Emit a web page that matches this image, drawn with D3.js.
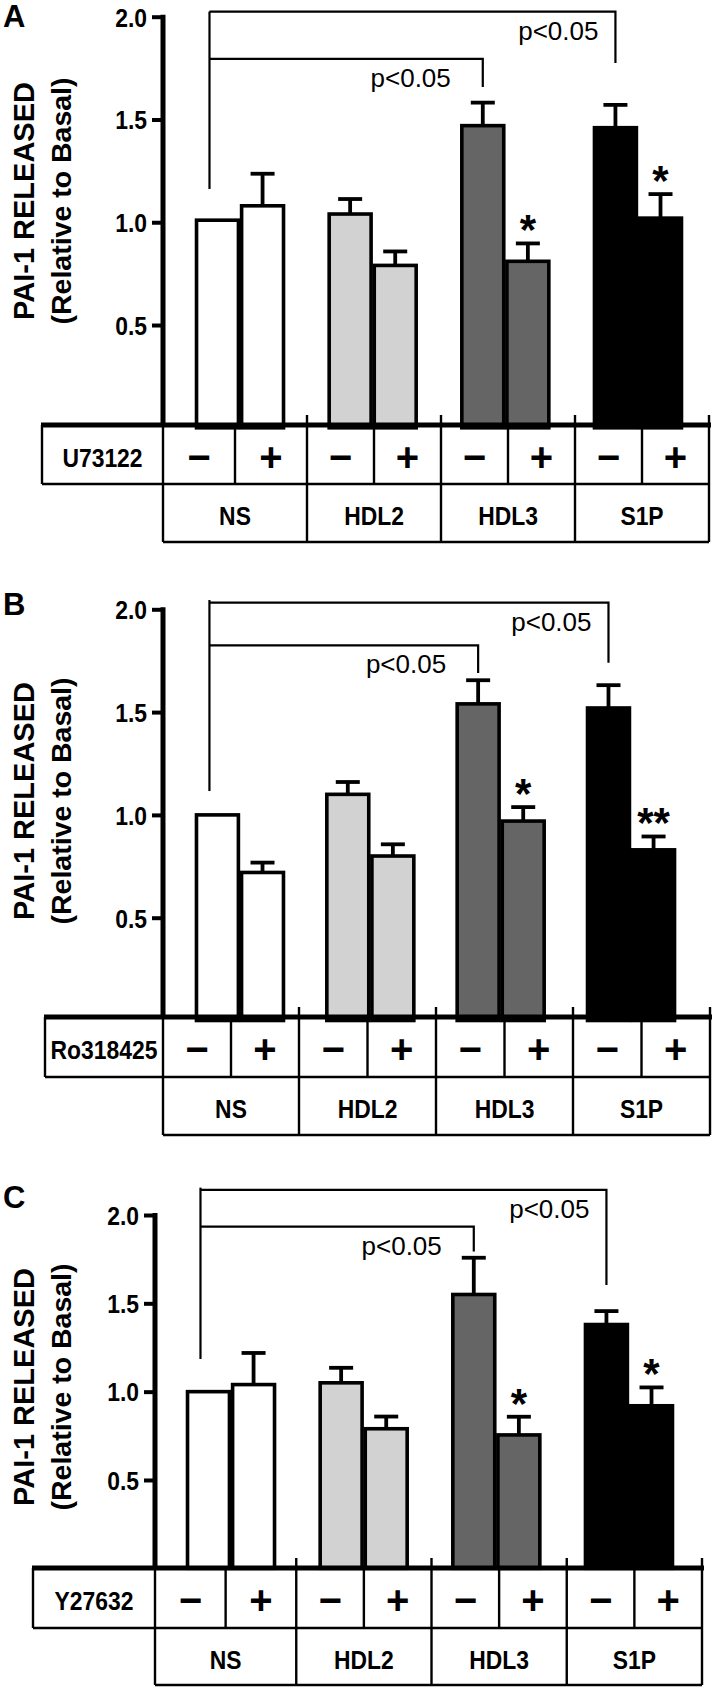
<!DOCTYPE html>
<html><head><meta charset="utf-8">
<script src="https://cdn.jsdelivr.net/npm/d3@7"></script>
<style>
html,body{margin:0;padding:0;background:#fff;}
svg{display:block;}
</style></head>
<body>
<svg id="chart" width="717" height="1690"></svg>
<script>
// ---------- DATA ----------
const groups = ["NS", "HDL2", "HDL3", "S1P"];
const treatments = ["−", "+"];
const inhibitors = ["U73122", "Ro318425", "Y27632"];
const panelLetters = ["A", "B", "C"];
const tickValues = [0.5, 1.0, 1.5, 2.0];
const pLabel = "p<0.05";
// bar order: NS−, NS+, HDL2−, HDL2+, HDL3−, HDL3+, S1P−, S1P+
const meanA = [1.01, 1.08, 1.04, 0.79, 1.47, 0.81, 1.46, 1.02];
const semA  = [0, 0.156, 0.073, 0.068, 0.112, 0.087, 0.111, 0.117];
const sigA  = ["", "", "", "", "", "*", "", "*"];
const meanB = [1.00, 0.72, 1.10, 0.80, 1.54, 0.97, 1.52, 0.83];
const semB  = [0, 0.048, 0.060, 0.057, 0.115, 0.068, 0.111, 0.065];
const sigB  = ["", "", "", "", "", "*", "", "**"];
const meanC = [1.00, 1.04, 1.05, 0.79, 1.55, 0.755, 1.38, 0.92];
const semC  = [0, 0.179, 0.085, 0.069, 0.208, 0.103, 0.076, 0.104];
const sigC  = ["", "", "", "", "", "*", "", "*"];
// comparisons: NS− vs HDL3−, NS− vs S1P−
const comparisons = [["NS", "HDL3"], ["NS", "S1P"]];

// ---------- STYLE / LAYOUT ----------
const fills = ["#ffffff", "#d2d2d2", "#656565", "#000000"];
const layouts = [
  {y0: 427.8, y2: 16.7, axisX: 163, baseY: 425, bar: [173.7, 704.3], tLeft: 42, tRange: [173, 709], rows: [59, 58], titleY: 201, letterY: 27,
   brk: {left: 2.025, top: 2.025, low: 1.795, dropHi: 1.775, dropLo: 1.658, leftEnd: 1.162}},
  {y0: 1020.5, y2: 609.3, axisX: 163, baseY: 1017, bar: [174.8, 696.2], tLeft: 45, tRange: [162, 710], rows: [60, 58], titleY: 801, letterY: 615,
   brk: {left: 2.045, top: 2.032, low: 1.825, dropHi: 1.740, dropLo: 1.690, leftEnd: 1.116}},
  {y0: 1568.3, y2: 1215, axisX: 155, baseY: 1568, bar: [164.7, 695.3], tLeft: 33, tRange: [161, 702], rows: [60, 57], titleY: 1387, letterY: 1208,
   brk: {left: 2.155, top: 2.142, low: 1.934, dropHi: 1.604, dropLo: 1.793, leftEnd: 1.185}}
];
const panels = [
  {mean: meanA, sem: semA, sig: sigA},
  {mean: meanB, sem: semB, sig: sigB},
  {mean: meanC, sem: semC, sig: sigC}
];
const boldFont = "'Liberation Sans', Arial, Helvetica, sans-serif";
const condense = 0.88;
const labelSize = 26;

const svg = d3.select("#chart");

function condText(g, x, y, txt, size, anchor) {
  return g.append("text")
    .attr("transform", `translate(${x},${y}) scale(${condense},1)`)
    .attr("text-anchor", anchor || "middle")
    .attr("font-family", boldFont)
    .attr("font-weight", "bold")
    .attr("font-size", size)
    .attr("fill", "#000")
    .text(txt);
}

panels.forEach((p, pi) => {
  const L = layouts[pi];
  const g = svg.append("g");
  const y = d3.scaleLinear().domain([0, 2]).range([L.y0, L.y2]);
  const xg = d3.scaleBand().domain(groups).range(L.bar).padding(0);
  const xt = d3.scaleBand().domain(treatments).range([-43.5, 43.5]).paddingInner(0.07);

  const bars = [];
  groups.forEach((gr, gi) => treatments.forEach((t, ti) => {
    const i = gi * 2 + ti;
    bars.push({group: gr, gi, t, mean: p.mean[i], sem: p.sem[i], sig: p.sig[i]});
  }));
  const bx = d => xg(d.group) + xg.bandwidth() / 2 + xt(d.t);
  const bc = d => bx(d) + xt.bandwidth() / 2;

  // bars
  g.selectAll("rect.bar").data(bars).enter().append("rect")
    .attr("class", "bar")
    .attr("x", bx).attr("width", xt.bandwidth())
    .attr("y", d => y(d.mean)).attr("height", d => y(0) - y(d.mean))
    .attr("fill", d => fills[d.gi]).attr("stroke", "#000").attr("stroke-width", 3.6);

  // error bars
  const eb = bars.filter(d => d.sem > 0);
  g.selectAll("line.err").data(eb).enter().append("line")
    .attr("x1", bc).attr("x2", bc)
    .attr("y1", d => y(d.mean)).attr("y2", d => y(d.mean + d.sem))
    .attr("stroke", "#000").attr("stroke-width", 3.8);
  g.selectAll("line.cap").data(eb).enter().append("line")
    .attr("x1", d => bc(d) - 12).attr("x2", d => bc(d) + 12)
    .attr("y1", d => y(d.mean + d.sem)).attr("y2", d => y(d.mean + d.sem))
    .attr("stroke", "#000").attr("stroke-width", 3.8);

  // significance stars
  g.selectAll("text.sig").data(bars.filter(d => d.sig)).enter().append("text")
    .attr("x", bc).attr("y", d => y(d.mean + d.sem) + 1)
    .attr("text-anchor", "middle")
    .attr("font-family", boldFont).attr("font-weight", "bold").attr("font-size", 42)
    .text(d => d.sig);

  // y axis
  const ax = g.append("g").attr("transform", `translate(${L.axisX},0)`)
    .call(d3.axisLeft(y).tickValues(tickValues).tickFormat(d3.format(".1f")).tickSize(11).tickSizeOuter(0));
  ax.select(".domain").attr("stroke-width", 5).attr("d", `M0,${y(2) - 2}V${L.baseY}`);
  ax.selectAll(".tick line").attr("stroke-width", 4);
  ax.selectAll(".tick text")
    .attr("x", null).attr("dy", null)
    .attr("transform", `translate(-16,9.3) scale(${condense},1)`)
    .attr("font-family", boldFont).attr("font-weight", "bold").attr("font-size", labelSize)
    .attr("fill", "#000");

  // y title
  g.append("text").attr("transform", `translate(34,${L.titleY}) rotate(-90)`)
    .attr("text-anchor", "middle").attr("font-family", boldFont).attr("font-weight", "bold")
    .attr("font-size", 29).text("PAI-1 RELEASED");
  g.append("text").attr("transform", `translate(71,${L.titleY}) rotate(-90)`)
    .attr("text-anchor", "middle").attr("font-family", boldFont).attr("font-weight", "bold")
    .attr("font-size", 28.5).text("(Relative to Basal)");

  // panel letter
  g.append("text").attr("x", 3).attr("y", L.letterY)
    .attr("font-family", boldFont).attr("font-weight", "bold").attr("font-size", 31).text(panelLetters[pi]);

  // brackets
  const B = L.brk;
  const ns = bars[0];
  const leftX = bc(ns) - 8;
  const dropX = gname => bc(bars.find(d => d.group === gname && d.t === treatments[0]));
  const bk = g.append("g").attr("fill", "none").attr("stroke", "#000").attr("stroke-width", 2.2);
  bk.append("path").attr("d", `M${leftX},${y(B.left)}V${y(B.leftEnd)}`);
  const levels = [
    {target: comparisons[1][1], lv: B.top, drop: B.dropHi, off: 17},
    {target: comparisons[0][1], lv: B.low, drop: B.dropLo, off: 32}
  ];
  levels.forEach(l => {
    const dx = dropX(l.target);
    bk.append("path").attr("d", `M${leftX},${y(l.lv)}H${dx}V${y(l.drop)}`);
    g.append("text").attr("x", dx - l.off).attr("y", y(l.lv) + 28)
      .attr("text-anchor", "end").attr("font-family", boldFont).attr("font-size", 26)
      .text(pLabel);
  });

  // ---------- table ----------
  const xT = d3.scaleBand().domain(groups).range(L.tRange).padding(0);
  const right = L.tRange[1];
  const r1 = L.baseY, r2 = L.baseY + L.rows[0], r3 = r2 + L.rows[1];
  const bounds = [L.axisX].concat(groups.slice(1).map(d => xT(d)), [right]);
  const tb = g.append("g").attr("stroke", "#000").attr("stroke-width", 2.4).attr("fill", "none");
  tb.append("line").attr("x1", L.tLeft).attr("x2", L.tLeft).attr("y1", r1).attr("y2", r2);
  tb.append("line").attr("x1", L.tLeft).attr("x2", right).attr("y1", r2).attr("y2", r2);
  tb.append("line").attr("x1", L.axisX).attr("x2", right).attr("y1", r3).attr("y2", r3);
  bounds.forEach(bv => {
    tb.append("line").attr("x1", bv).attr("x2", bv).attr("y1", r1).attr("y2", r3);
  });
  bounds.slice(1).forEach(bv => {
    tb.append("line").attr("x1", bv).attr("x2", bv).attr("y1", r1 - 10).attr("y2", r1);
  });
  const mids = groups.map((d, i) => (bounds[i] + bounds[i + 1]) / 2);
  mids.forEach(m => tb.append("line").attr("x1", m).attr("x2", m).attr("y1", r1).attr("y2", r2));
  g.append("line").attr("x1", L.tLeft - 1).attr("x2", right + 2).attr("y1", r1).attr("y2", r1)
    .attr("stroke", "#000").attr("stroke-width", 5);

  const c1 = (r1 + r2) / 2 + 3, c2 = (r2 + r3) / 2 + 3;
  condText(g, (L.tLeft + L.axisX) / 2, c1 + 0.358 * labelSize, inhibitors[pi], labelSize);
  groups.forEach((gr, i) => {
    condText(g, (bounds[i] + bounds[i + 1]) / 2, c2 + 0.358 * labelSize, gr, labelSize);
    treatments.forEach((t, ti) => {
      const cx = ti === 0 ? (bounds[i] + mids[i]) / 2 : (mids[i] + bounds[i + 1]) / 2;
      g.append("text").attr("x", cx).attr("y", c1 + 0.33 * 40)
        .attr("text-anchor", "middle").attr("font-family", boldFont).attr("font-weight", "bold")
        .attr("font-size", 40).text(t);
    });
  });
});
</script>
</body></html>
